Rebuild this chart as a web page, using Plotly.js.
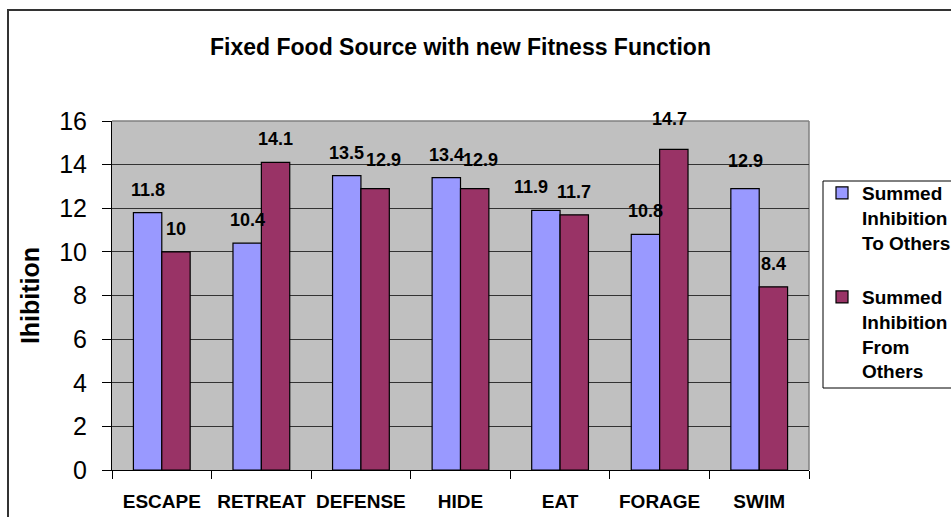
<!DOCTYPE html>
<html>
<head>
<meta charset="utf-8">
<script src="https://cdn.plot.ly/plotly-3.0.1.min.js"></script>
<style>
  html, body { margin: 0; padding: 0; background: #ffffff; }
  #chart { width: 951px; height: 517px; }
</style>
</head>
<body>
<div id="chart"></div>
<script>
// ---- data ----
const categories = ['ESCAPE', 'RETREAT', 'DEFENSE', 'HIDE', 'EAT', 'FORAGE', 'SWIM'];
const toOthers = [11.8, 10.4, 13.5, 13.4, 11.9, 10.8, 12.9];
const fromOthers = [10, 14.1, 12.9, 12.9, 11.7, 14.7, 8.4];
const seriesNames = ['Summed<br>Inhibition<br>To Others', 'Summed<br>Inhibition<br>From<br>Others'];
const yTicks = [0, 2, 4, 6, 8, 10, 12, 14, 16];
const chartTitle = 'Fixed Food Source with new Fitness Function';
const yTitle = 'Ihibition';

// ---- layout geometry ----
const W = 951, H = 517;
const M = { l: 112, r: 142, t: 121, b: 47 };
const bargap = 0.43;
const plotW = W - M.l - M.r;
const plotH = H - M.t - M.b;
const catW = plotW / categories.length;
const barW = catW * (1 - bargap) / 2;
const FONT = 'Liberation Sans, Arial, Helvetica, sans-serif';
const colors = ['#9999FF', '#993366'];

// pixel nudges for data labels that the original chart moved to avoid collisions
// key: seriesIndex|category -> [dx, dyUp]
const labelNudge = {
  '0|EAT': [-15, 0],
  '1|DEFENSE': [8, 6],
  '1|HIDE': [6, 6],
  '0|SWIM': [0, 5],
  '1|FORAGE': [-4, 7]
};

const px2x = p => (p - M.l) / plotW;
const px2y = p => (H - M.b - p) / plotH;

const traces = [toOthers, fromOthers].map((vals, i) => ({
  type: 'bar',
  x: categories,
  y: vals,
  name: seriesNames[i],
  legendgroup: 'g' + i,
  marker: { color: colors[i], line: { color: '#000000', width: 1.2 } },
  hoverinfo: 'x+y'
}));

const annotations = [];
[toOthers, fromOthers].forEach((vals, i) => {
  vals.forEach((v, j) => {
    const n = labelNudge[i + '|' + categories[j]] || [0, 0];
    annotations.push({
      x: categories[j], y: v, xref: 'x', yref: 'y',
      text: String(v),
      showarrow: false,
      xanchor: 'center', yanchor: 'bottom',
      xshift: (i === 0 ? -1 : 1) * barW / 2 + n[0],
      yshift: 11 + n[1],
      font: { family: FONT, size: 18, color: '#000', weight: 'bold' }
    });
  });
});

const shapes = [
  // outer chart frame
  { type: 'rect', xref: 'paper', yref: 'paper',
    x0: px2x(8), y0: px2y(10), x1: px2x(975), y1: px2y(540),
    line: { color: '#333333', width: 2 }, fillcolor: 'rgba(0,0,0,0)', layer: 'below' },
  // plot area top & right border (gray)
  { type: 'line', xref: 'paper', yref: 'paper', x0: 0, y0: 1, x1: 1, y1: 1,
    line: { color: '#808080', width: 1.5 }, layer: 'below' },
  { type: 'line', xref: 'paper', yref: 'paper', x0: 1, y0: 1, x1: 1, y1: 0,
    line: { color: '#808080', width: 1.5 }, layer: 'below' },
  // legend box
  { type: 'rect', xref: 'paper', yref: 'paper',
    x0: px2x(823), y0: px2y(181), x1: px2x(975), y1: px2y(388),
    line: { color: '#000000', width: 1 }, fillcolor: '#ffffff', layer: 'below' }
];

const layout = {
  width: W, height: H,
  margin: M,
  paper_bgcolor: '#ffffff',
  plot_bgcolor: '#C0C0C0',
  font: { family: FONT, color: '#000000' },
  title: {
    text: chartTitle,
    font: { family: FONT, size: 23, color: '#000', weight: 'bold' },
    x: 0.5, xref: 'paper', xanchor: 'center',
    y: 1 - 47 / H, yref: 'container', yanchor: 'middle'
  },
  barmode: 'group',
  bargap: bargap,
  bargroupgap: 0,
  xaxis: {
    type: 'category',
    showline: true, linecolor: '#000', linewidth: 1,
    ticks: 'outside', ticklen: 8, tickcolor: '#000', tickwidth: 1,
    tickson: 'boundaries',
    tickangle: 0,
    showgrid: false, zeroline: false,
    tickfont: { family: FONT, size: 19, color: '#000', weight: 'bold' },
    ticklabelstandoff: 14,
    automargin: false,
    fixedrange: true
  },
  yaxis: {
    range: [0, 16],
    tickvals: yTicks,
    ticktext: yTicks.map(String),
    showline: true, linecolor: '#000', linewidth: 1,
    ticks: 'outside', ticklen: 9, tickcolor: '#000', tickwidth: 1,
    showgrid: true, gridcolor: '#333333', gridwidth: 1,
    zeroline: false,
    tickfont: { family: FONT, size: 25, color: '#000' },
    ticklabelstandoff: 10,
    title: { text: yTitle, font: { family: FONT, size: 25, color: '#000', weight: 'bold' }, standoff: 12 },
    automargin: false,
    fixedrange: true
  },
  showlegend: true,
  legend: {
    xref: 'container', yref: 'container',
    x: 822 / W, xanchor: 'left',
    y: 1 - 174 / H, yanchor: 'top',
    bgcolor: 'rgba(0,0,0,0)', borderwidth: 0,
    font: { family: FONT, size: 19, color: '#000', weight: 'bold' },
    traceorder: 'grouped', tracegroupgap: 27,
    valign: 'top', itemclick: false, itemdoubleclick: false
  },
  annotations: annotations,
  shapes: shapes
};

Plotly.newPlot('chart', traces, layout, { displayModeBar: false, staticPlot: true });
</script>
</body>
</html>
